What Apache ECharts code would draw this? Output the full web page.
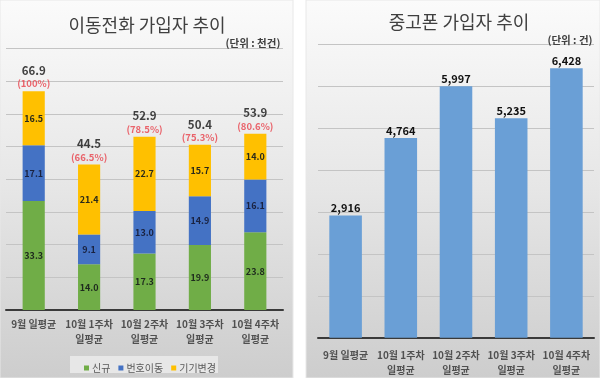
<!DOCTYPE html>
<html><head><meta charset="utf-8">
<script src="https://cdn.jsdelivr.net/npm/echarts@6/dist/echarts.min.js"></script>
<style>html,body{margin:0;padding:0;background:#fff}#c{width:600px;height:378px}</style>
</head><body><div id="c"></div>
<script>
var categories = ['9월 일평균', '10월 1주차\n일평균', '10월 2주차\n일평균', '10월 3주차\n일평균', '10월 4주차\n일평균'];
var newSubs = [33.3, 14.0, 17.3, 19.9, 23.8];
var portIn = [17.1, 9.1, 13.0, 14.9, 16.1];
var deviceChange = [16.5, 21.4, 22.7, 15.7, 14.0];
var totals = [66.9, 44.5, 52.9, 50.4, 53.9];
var pctLabels = ['(100%)', '(66.5%)', '(78.5%)', '(75.3%)', '(80.6%)'];
var usedPhone = [2916, 4764, 5997, 5235, 6428];

var FONT = '"Noto Sans CJK KR", "Noto Sans", sans-serif';
var chart = echarts.init(document.getElementById('c'));
function bg(x, w) {
  return {
    type: 'rect', shape: {x: x, y: 0, width: w, height: 378}, z: -10,
    style: {
      fill: new echarts.graphic.LinearGradient(0, 0, 0, 1, [
        {offset: 0, color: '#fbfbfb'}, {offset: 0.5, color: '#e6e6e6'}, {offset: 1, color: '#cdcdcd'}
      ]),
      stroke: '#e8e8e8', lineWidth: 1
    }
  };
}
var axisLabelStyle = {fontFamily: FONT, fontSize: 10, fontWeight: 'bold', color: '#505050', lineHeight: 15, interval: 0};
chart.setOption({
  backgroundColor: '#ffffff',
  textStyle: {fontFamily: FONT},
  graphic: [
    bg(0, 293), bg(306, 294),
    {type: 'rect', shape: {x: 70, y: 356, width: 148, height: 17}, z: -5, style: {fill: 'rgba(235,235,235,0.85)'}}
  ],
  title: [
    {text: '이동전화 가입자 추이', left: 142, top: 11, textAlign: 'center',
     textStyle: {fontFamily: FONT, fontSize: 18, fontWeight: 'normal', color: '#404040'}},
    {text: '(단위 : 천건)', left: 248, top: 33, textAlign: 'center',
     textStyle: {fontFamily: FONT, fontSize: 10.5, fontWeight: 'bold', color: '#404040'}},
    {text: '중고폰 가입자 추이', left: 454, top: 8, textAlign: 'center',
     textStyle: {fontFamily: FONT, fontSize: 18, fontWeight: 'normal', color: '#404040'}},
    {text: '(단위 : 건)', left: 565, top: 30, textAlign: 'center',
     textStyle: {fontFamily: FONT, fontSize: 10.5, fontWeight: 'bold', color: '#404040'}}
  ],
  legend: {
    data: ['신규', '번호이동', '기기변경'], left: 79, top: 358,
    itemWidth: 5, itemHeight: 5, itemGap: 8, icon: 'rect', selectedMode: false,
    textStyle: {fontFamily: FONT, fontSize: 10, color: '#595959', padding: [0, 0, 0, -2]}
  },
  grid: [
    {left: 6, right: 317, top: 48.4, bottom: 68},
    {left: 318, right: 6, top: 44.3, bottom: 40.3}
  ],
  xAxis: [
    {type: 'category', gridIndex: 0, data: categories,
     axisLine: {lineStyle: {color: '#3a3a3a', width: 2}}, axisTick: {show: false},
     axisLabel: Object.assign({margin: 7}, axisLabelStyle)},
    {type: 'category', gridIndex: 1, data: categories,
     axisLine: {lineStyle: {color: '#3a3a3a', width: 2}}, axisTick: {show: false},
     axisLabel: Object.assign({margin: 10}, axisLabelStyle)}
  ],
  yAxis: [
    {type: 'value', gridIndex: 0, min: 0, max: 80, interval: 10,
     axisLabel: {show: false}, axisLine: {show: false}, axisTick: {show: false},
     splitLine: {lineStyle: {color: '#c4c4c4', width: 1}}},
    {type: 'value', gridIndex: 1, min: 0, max: 7000, interval: 1000,
     axisLabel: {show: false}, axisLine: {show: false}, axisTick: {show: false},
     splitLine: {lineStyle: {color: '#c4c4c4', width: 1}}}
  ],
  series: [
    {name: '신규', type: 'bar', stack: 's', xAxisIndex: 0, yAxisIndex: 0, data: newSubs,
     barCategoryGap: '60%', itemStyle: {color: '#70ad47'},
     label: {show: true, position: 'inside', fontFamily: FONT, fontSize: 9, fontWeight: 'bold', color: '#1e2a1e',
       formatter: function (p) { return p.value.toFixed(1); }}},
    {name: '번호이동', type: 'bar', stack: 's', xAxisIndex: 0, yAxisIndex: 0, data: portIn,
     itemStyle: {color: '#4472c4'},
     label: {show: true, position: 'inside', fontFamily: FONT, fontSize: 9, fontWeight: 'bold', color: '#1a2240',
       formatter: function (p) { return p.value.toFixed(1); }}},
    {name: '기기변경', type: 'bar', stack: 's', xAxisIndex: 0, yAxisIndex: 0, data: deviceChange,
     itemStyle: {color: '#ffc000'},
     label: {show: true, position: 'inside', fontFamily: FONT, fontSize: 9, fontWeight: 'bold', color: '#2a2a1a',
       formatter: function (p) { return p.value.toFixed(1); }}},
    {name: '합계', type: 'scatter', xAxisIndex: 0, yAxisIndex: 0, data: totals, symbolSize: 0, silent: true,
     label: {show: true, position: 'top', distance: 1,
       formatter: function (p) { return '{t|' + p.value.toFixed(1) + '}\n{p|' + pctLabels[p.dataIndex] + '}'; },
       rich: {
         t: {fontFamily: FONT, fontSize: 11.5, fontWeight: 'bold', color: '#111111', lineHeight: 14},
         p: {fontFamily: FONT, fontSize: 9.5, fontWeight: 'bold', color: '#e8404a', lineHeight: 13}
       }}},
    {name: '중고폰', type: 'bar', xAxisIndex: 1, yAxisIndex: 1, data: usedPhone,
     barCategoryGap: '41%', itemStyle: {color: '#6a9fd6'},
     label: {show: true, position: 'top', distance: 2, fontFamily: FONT, fontSize: 11, fontWeight: 'bold', color: '#111111',
       formatter: function (p) { return p.value.toLocaleString('en-US'); }}}
  ]
});
</script></body></html>
